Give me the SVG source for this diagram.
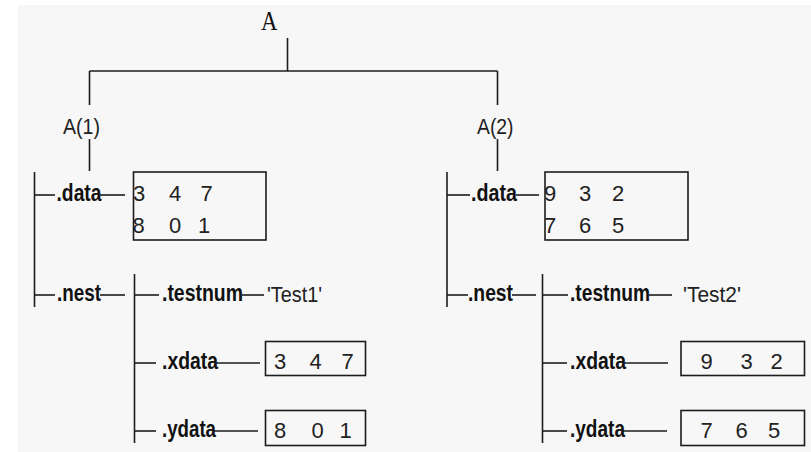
<svg xmlns="http://www.w3.org/2000/svg" width="811" height="452" viewBox="0 0 811 452">
  <style>
    .ln { stroke: #1c1c1c; stroke-width: 1.6; fill: none; }
    .box { stroke: #1c1c1c; stroke-width: 1.6; fill: none; }
    .lbl { font-family: "Liberation Sans", Arial, sans-serif; font-size: 23px; font-weight: bold; fill: #111; }
    .txt { font-family: "Liberation Sans", Arial, sans-serif; font-size: 22px; fill: #222; }
    .num { font-family: "Liberation Sans", Arial, sans-serif; font-size: 22px; fill: #222; }
    .root { font-family: "Liberation Serif", "Times New Roman", serif; font-size: 23px; fill: #111; }
  </style>
  <rect x="0" y="0" width="811" height="452" fill="#ffffff"/>
  <rect x="18" y="5" width="793" height="447" fill="#f7f7f7"/>

  <!-- tree connectors -->
  <g id="connectors">
    <!-- root -->
    <line class="ln" x1="287.5" y1="38" x2="287.5" y2="71"/>
    <line class="ln" x1="89.5" y1="71" x2="497.5" y2="71"/>
    <line class="ln" x1="89.5" y1="71" x2="89.5" y2="105"/>
    <line class="ln" x1="497.5" y1="71" x2="497.5" y2="105"/>
    <!-- A(1) branch -->
    <line class="ln" x1="89.5" y1="139" x2="89.5" y2="171"/>
    <line class="ln" x1="34.5" y1="172" x2="34.5" y2="307"/>
    <line class="ln" x1="34.5" y1="195" x2="55" y2="195"/>
    <line class="ln" x1="100" y1="195" x2="125" y2="195"/>
    <line class="ln" x1="34.5" y1="295" x2="55" y2="295"/>
    <line class="ln" x1="100" y1="295" x2="125" y2="295"/>
    <line class="ln" x1="134.5" y1="274" x2="134.5" y2="443"/>
    <line class="ln" x1="134.5" y1="295" x2="159" y2="295"/>
    <line class="ln" x1="242" y1="295" x2="264" y2="295"/>
    <line class="ln" x1="134.5" y1="363" x2="156" y2="363"/>
    <line class="ln" x1="216" y1="363" x2="260" y2="363"/>
    <line class="ln" x1="134.5" y1="431" x2="156" y2="431"/>
    <line class="ln" x1="213" y1="431" x2="258" y2="431"/>
    <!-- A(2) branch -->
    <line class="ln" x1="497.5" y1="139" x2="497.5" y2="171"/>
    <line class="ln" x1="447" y1="172" x2="447" y2="307"/>
    <line class="ln" x1="447" y1="195" x2="470" y2="195"/>
    <line class="ln" x1="516" y1="195" x2="539" y2="195"/>
    <line class="ln" x1="447" y1="295" x2="468" y2="295"/>
    <line class="ln" x1="512" y1="295" x2="536" y2="295"/>
    <line class="ln" x1="542.5" y1="274" x2="542.5" y2="443"/>
    <line class="ln" x1="542.5" y1="295" x2="568" y2="295"/>
    <line class="ln" x1="649" y1="295" x2="672" y2="295"/>
    <line class="ln" x1="542.5" y1="363" x2="567" y2="363"/>
    <line class="ln" x1="624" y1="363" x2="668" y2="363"/>
    <line class="ln" x1="542.5" y1="431" x2="567" y2="431"/>
    <line class="ln" x1="623" y1="431" x2="667" y2="431"/>
  </g>

  <!-- root struct -->
  <g id="node-A">
    <text class="root" x="261" y="25" transform="translate(0 30.5) scale(1 1.2) translate(0 -25)" textLength="16.5" lengthAdjust="spacingAndGlyphs">A</text>
  </g>

  <!-- first element -->
  <g id="node-A1">
    <text class="txt" x="63" y="133.5" textLength="37" lengthAdjust="spacingAndGlyphs">A(1)</text>
  </g>
  <g id="node-A1-data">
    <text class="lbl" x="56.5" y="200.5" textLength="45" lengthAdjust="spacingAndGlyphs">.data</text>
    <rect class="box" x="133.5" y="172" width="132.5" height="68"/>
    <text class="num" x="133" y="201">3</text>
    <text class="num" x="169" y="201">4</text>
    <text class="num" x="200.5" y="201">7</text>
    <text class="num" x="132.5" y="233">8</text>
    <text class="num" x="169" y="233">0</text>
    <text class="num" x="198" y="233">1</text>
  </g>
  <g id="node-A1-nest">
    <text class="lbl" x="57" y="300.5" textLength="44" lengthAdjust="spacingAndGlyphs">.nest</text>
  </g>
  <g id="node-A1-testnum">
    <text class="lbl" x="162" y="301" textLength="81" lengthAdjust="spacingAndGlyphs">.testnum</text>
    <text class="txt" x="267" y="301.5" textLength="55" lengthAdjust="spacingAndGlyphs">'Test1'</text>
  </g>
  <g id="node-A1-xdata">
    <text class="lbl" x="162" y="369" textLength="56" lengthAdjust="spacingAndGlyphs">.xdata</text>
    <rect class="box" x="265.5" y="341.5" width="100" height="34"/>
    <text class="num" x="274" y="369">3</text>
    <text class="num" x="309.5" y="369">4</text>
    <text class="num" x="341.5" y="369">7</text>
  </g>
  <g id="node-A1-ydata">
    <text class="lbl" x="162" y="437" textLength="54" lengthAdjust="spacingAndGlyphs">.ydata</text>
    <rect class="box" x="265.5" y="410.5" width="100" height="35"/>
    <text class="num" x="274" y="438">8</text>
    <text class="num" x="311.5" y="438">0</text>
    <text class="num" x="339.5" y="438">1</text>
  </g>

  <!-- second element -->
  <g id="node-A2">
    <text class="txt" x="477" y="133.5" textLength="36.5" lengthAdjust="spacingAndGlyphs">A(2)</text>
  </g>
  <g id="node-A2-data">
    <text class="lbl" x="471" y="200.5" textLength="46" lengthAdjust="spacingAndGlyphs">.data</text>
    <rect class="box" x="545" y="172" width="143" height="68"/>
    <text class="num" x="544" y="201">9</text>
    <text class="num" x="579" y="201">3</text>
    <text class="num" x="612" y="201">2</text>
    <text class="num" x="544" y="233">7</text>
    <text class="num" x="579" y="233">6</text>
    <text class="num" x="612" y="233">5</text>
  </g>
  <g id="node-A2-nest">
    <text class="lbl" x="468" y="300.5" textLength="45" lengthAdjust="spacingAndGlyphs">.nest</text>
  </g>
  <g id="node-A2-testnum">
    <text class="lbl" x="570" y="301" textLength="80" lengthAdjust="spacingAndGlyphs">.testnum</text>
    <text class="txt" x="683" y="301.5" textLength="58" lengthAdjust="spacingAndGlyphs">'Test2'</text>
  </g>
  <g id="node-A2-xdata">
    <text class="lbl" x="570" y="369" textLength="56" lengthAdjust="spacingAndGlyphs">.xdata</text>
    <rect class="box" x="681" y="341.5" width="123.5" height="34"/>
    <text class="num" x="700.5" y="369">9</text>
    <text class="num" x="740.5" y="369">3</text>
    <text class="num" x="770.5" y="369">2</text>
  </g>
  <g id="node-A2-ydata">
    <text class="lbl" x="570" y="437" textLength="55" lengthAdjust="spacingAndGlyphs">.ydata</text>
    <rect class="box" x="681" y="410.5" width="123.5" height="35"/>
    <text class="num" x="700.5" y="438">7</text>
    <text class="num" x="735.5" y="438">6</text>
    <text class="num" x="768" y="438">5</text>
  </g>
</svg>
